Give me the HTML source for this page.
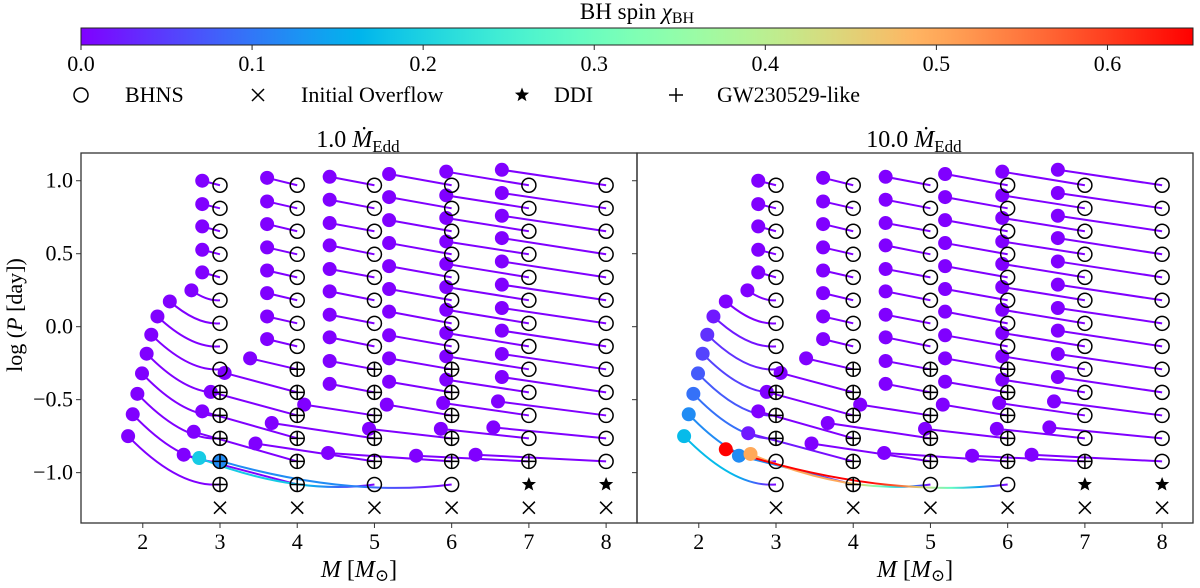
<!DOCTYPE html>
<html><head><meta charset="utf-8"><style>
html,body{margin:0;padding:0;background:#fff;}
svg, svg text{font-family:"Liberation Serif","DejaVu Serif","Times New Roman",serif;}
</style></head><body>
<svg id="chart" width="1200" height="583" viewBox="0 0 1200 583" xmlns="http://www.w3.org/2000/svg" font-family="Liberation Serif, DejaVu Serif, serif">
<defs id="defs"></defs>
<g id="cbar"></g>
<g id="legend"></g>
<g id="panels"></g>
</svg>
<script>
const NS="http://www.w3.org/2000/svg";
// ---- data ----
const colMasses=[3,4,5,6,7,8];
const rowLogP=[0.969,0.811,0.654,0.496,0.338,0.181,0.023,-0.135,-0.292,-0.45,-0.608,-0.765,-0.923,-1.081];
const finalM3=[2.77,2.77,2.77,2.77,2.77,2.63,2.35,2.19,2.11,2.05,1.99,1.93,1.87,1.81];
const finalP3=[1.0,0.84,0.687,0.527,0.372,0.249,0.173,0.07,-0.055,-0.185,-0.32,-0.46,-0.60,-0.75];
const finalM4=[3.61,3.61,3.61,3.61,3.61,3.61,3.61,3.61,3.39,3.06,2.88,2.77,2.66,2.53];
const finalP4=[1.02,0.858,0.703,0.543,0.385,0.23,0.07,-0.085,-0.217,-0.317,-0.447,-0.58,-0.72,-0.877];
const finalM5=[4.42,4.42,4.42,4.42,4.42,4.42,4.42,4.42,4.42,4.42,4.09,3.67,3.46,2.73];
const finalP5=[1.027,0.87,0.71,0.557,0.395,0.242,0.082,-0.073,-0.235,-0.392,-0.534,-0.66,-0.80,-0.90];
const finalM6=[5.19,5.19,5.19,5.19,5.19,5.19,5.19,5.19,5.19,5.19,5.16,4.93,4.40,3.0];
const finalP6=[1.046,0.888,0.73,0.573,0.415,0.258,0.103,-0.059,-0.217,-0.377,-0.534,-0.70,-0.865,-0.92];
const finalM7=[5.93,5.93,5.93,5.93,5.93,5.93,5.93,5.93,5.93,5.93,5.89,5.86,5.54,null];
const finalP7=[1.062,0.9,0.745,0.584,0.43,0.272,0.116,-0.043,-0.203,-0.363,-0.523,-0.70,-0.884,null];
const finalM8=[6.65,6.65,6.65,6.65,6.65,6.65,6.65,6.65,6.65,6.65,6.6,6.54,6.31,null];
const finalP8=[1.075,0.916,0.76,0.607,0.447,0.288,0.128,-0.027,-0.187,-0.345,-0.512,-0.69,-0.877,null];
// right-panel final-point overrides [col,row,M,logP]
const overridesRight=[[4,12,2.64,-0.73],[4,13,2.52,-0.884],[5,13,2.67,-0.872],[6,13,2.35,-0.84]];
// spins (non-zero only) [col,row,spin]
const spinsLeft=[[5,13,0.19],[6,13,0.12]];
const spinsRight=[[3,7,0.02],[3,8,0.04],[3,9,0.055],[3,10,0.075],[3,11,0.095],[3,12,0.12],[3,13,0.17],[4,12,0.02],[4,13,0.12],[5,13,0.5],[6,13,0.65]];
const plusLeft={3:[9,10,11,12,13],4:[8,9,10,11,12,13],5:[8,9,10,11,12],6:[8,9,10,11,12],7:[12],8:[]};
const plusRight={3:[9,10,11],4:[8,9,10,11,12,13],5:[8,9,10,11,12],6:[8,9,10,11,12],7:[12],8:[]};
const starCols=[7,8];
const crossLogP=-1.24;
const xTicks=[2,3,4,5,6,7,8];
const yTicks=[1.0,0.5,0.0,-0.5,-1.0];
const cbarTicks=[0,0.1,0.2,0.3,0.4,0.5,0.6];
const vmax=0.65;
const finals={3:[finalM3,finalP3],4:[finalM4,finalP4],5:[finalM5,finalP5],6:[finalM6,finalP6],7:[finalM7,finalP7],8:[finalM8,finalP8]};

const FONT="Liberation Serif, DejaVu Serif, serif";
function rainbow(v){let x=Math.max(0,Math.min(1,v/vmax));
 let r=Math.min(1,Math.abs(2*x-0.5)),g=Math.sin(Math.PI*x),b=Math.cos(Math.PI*x/2);
 return `rgb(${Math.round(r*255)},${Math.round(g*255)},${Math.round(Math.max(0,b)*255)})`;}
function el(t,a,p){const e=document.createElementNS(NS,t);for(const k in a)e.setAttribute(k,a[k]);if(t==='text')e.setAttribute('font-family',FONT);(p||svg).appendChild(e);return e;}
const svg=document.getElementById('chart');const defs=document.getElementById('defs');

// ---- colorbar ----
const cb=document.getElementById('cbar');
const CBX0=81,CBX1=1193,CBY0=28,CBY1=45;
const cg=el('linearGradient',{id:'cbg',x1:0,x2:1,y1:0,y2:0},defs);
for(let i=0;i<=40;i++){el('stop',{offset:i/40,'stop-color':rainbow(vmax*i/40)},cg);}
const cbr=el('rect',{x:CBX0,y:CBY0,width:CBX1-CBX0,height:CBY1-CBY0,fill:'url(#cbg)',stroke:'#222','stroke-width':1},cb);

const cbx=v=>CBX0+v/vmax*(CBX1-CBX0);
cbarTicks.forEach(v=>{el('line',{x1:cbx(v),x2:cbx(v),y1:CBY1,y2:CBY1+5,stroke:'#222'},cb);
 const t=el('text',{x:cbx(v),y:71,'font-size':22,'text-anchor':'middle'},cb);t.textContent=v.toFixed(1);
 });
const ct=el('text',{x:637,y:19,'font-size':23,'text-anchor':'middle'},cb);
ct.innerHTML='BH spin <tspan font-style="italic">χ</tspan><tspan font-size="16" dy="4">BH</tspan>';


// ---- markers ----
function openCircle(x,y,g){el('circle',{cx:x,cy:y,r:7,fill:'none',stroke:'#000','stroke-width':1.5},g);}
function plusM(x,y,g){el('path',{d:`M${x-7} ${y}H${x+7}M${x} ${y-7}V${y+7}`,stroke:'#000','stroke-width':1.5},g);}
function crossM(x,y,g){el('path',{d:`M${x-6} ${y-6}L${x+6} ${y+6}M${x-6} ${y+6}L${x+6} ${y-6}`,stroke:'#000','stroke-width':1.5},g);}
function starM(x,y,g){let p=[];for(let i=0;i<10;i++){const r=i%2?3.2:7.5,a=-Math.PI/2+i*Math.PI/5;p.push((x+r*Math.cos(a)).toFixed(1)+','+(y+r*Math.sin(a)).toFixed(1));}el('polygon',{points:p.join(' '),fill:'#000'},g);}

// ---- legend ----
const lg=document.getElementById('legend');const LY=95;
function legEntry(name,mk,mx,tx,label){const g=el('g',{},lg);
 mk(mx,LY,g);const t=el('text',{x:tx,y:LY+7,'font-size':22},g);t.textContent=label;}
legEntry('legend-bhns',openCircle,81,125,'BHNS');
legEntry('legend-initial-overflow',crossM,258,301,'Initial Overflow');
legEntry('legend-ddi',starM,522,554,'DDI');
legEntry('legend-gw230529',plusM,676,717,'GW230529-like');

// ---- panels ----
let gid=0;
function panel(x0,title,spins,plusMap,overrides,name,showY){
 const W=556,Y0=153,Y1=523,XMIN=1.2,XMAX=8.4,PMAX=1.19,PMIN=-1.345;
 const X=m=>x0+(m-XMIN)/(XMAX-XMIN)*W, Y=p=>Y0+(PMAX-p)/(PMAX-PMIN)*(Y1-Y0);
 const g=el('g',{},document.getElementById('panels'));
 const spinOf=(c,r)=>{const f=spins.find(s=>s[0]===c&&s[1]===r);return f?f[2]:0;};
 const lines=el('g',{},g),dots=el('g',{},g),marks=el('g',{},g);
 colMasses.forEach(c=>{const [fm,fp]=finals[c];
  rowLogP.forEach((p0,r)=>{ if(fm[r]===null)return;
   const s=spinOf(c,r);let mf=fm[r],pf=fp[r];
   const o=overrides.find(q=>q[0]===c&&q[1]===r);if(o){mf=o[2];pf=o[3];}
   const dx=c-mf;
   const sx=X(c),sy=Y(p0),ex=X(mf),ey=Y(pf);
   const curved=((pf-p0)/dx>0.17)||dx>1.8;
   let d;
   if(curved){const cx=X(mf+0.55*dx),cy=Y(p0-0.02*dx-(dx>1.5?0.03:0));d=`M${sx} ${sy}Q${cx} ${cy} ${ex} ${ey}`;}
   else d=`M${sx} ${sy}L${ex} ${ey}`;
   let stroke=rainbow(0);
   if(s>0){const id='tg'+(gid++);const lgr=el('linearGradient',{id:id,gradientUnits:'userSpaceOnUse',x1:sx,y1:0,x2:ex,y2:0},defs);
    for(let i=0;i<=10;i++){const t=i/10;el('stop',{offset:t,'stop-color':rainbow(s*Math.min(1,t/0.45))},lgr);}stroke=`url(#${id})`;}
   const path=el('path',{d:d,fill:'none',stroke:stroke,'stroke-width':2},lines);
   
   const dt=el('circle',{cx:ex,cy:ey,r:7,fill:rainbow(s)},dots);
   
   openCircle(sx,sy,marks);
   if(plusMap[c].includes(r))plusM(sx,sy,marks);
  });
  if(starCols.includes(c))starM(X(c),Y(rowLogP[13]),marks);
  crossM(X(c),Y(crossLogP),marks);
 });
 el('rect',{x:x0,y:Y0,width:W,height:Y1-Y0,fill:'none',stroke:'#333','stroke-width':1.3},g);
 xTicks.forEach(v=>{el('line',{x1:X(v),x2:X(v),y1:Y1,y2:Y1+5,stroke:'#333'},g);
  const t=el('text',{x:X(v),y:549,'font-size':22,'text-anchor':'middle'},g);t.textContent=v;
  });
 yTicks.forEach(v=>{el('line',{x1:x0,x2:x0-5,y1:Y(v),y2:Y(v),stroke:'#333'},g);
  if(showY){const t=el('text',{x:x0-8,y:Y(v)+7,'font-size':22,'text-anchor':'end'},g);t.textContent=(v<0?'\u2212':'')+Math.abs(v).toFixed(1);
  }});
 const xl=el('text',{x:x0+W/2,y:577,'font-size':24,'text-anchor':'middle'},g);
 xl.innerHTML='<tspan font-style="italic">M</tspan> [<tspan font-style="italic">M</tspan><tspan font-size="17" dy="4">⊙</tspan><tspan dy="-4">]</tspan>';
 
 const tt=el('text',{x:x0+W/2-1,y:147,'font-size':24,'text-anchor':'middle'},g);
 tt.innerHTML=title+' <tspan font-style="italic">Ṁ</tspan><tspan font-size="17" dy="5">Edd</tspan>';
 
}
panel(81,'1.0',spinsLeft,plusLeft,[],'panel-1-edd',true);
panel(637,'10.0',spinsRight,plusRight,overridesRight,'panel-10-edd',false);
const yl=el('text',{x:0,y:0,'font-size':22,'text-anchor':'middle',transform:'translate(22,315) rotate(-90)'});
yl.innerHTML='log (<tspan font-style="italic">P</tspan> [day])';

</script>
</body></html>
